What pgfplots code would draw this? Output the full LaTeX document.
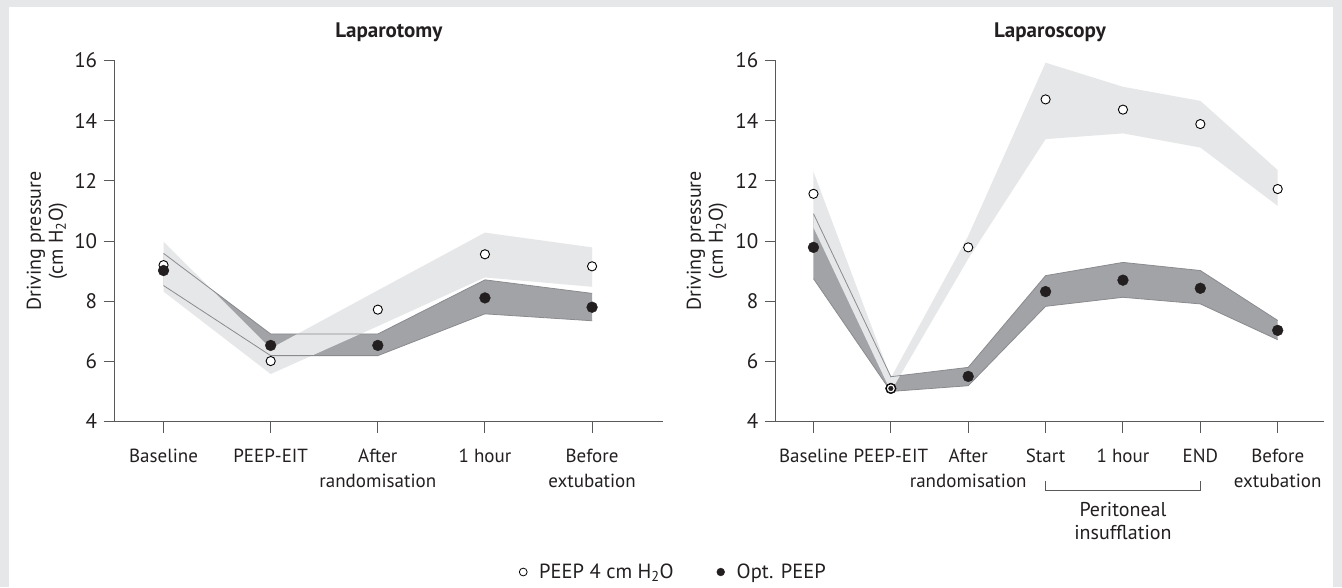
\documentclass[border=0pt]{standalone}
\usepackage{fontspec}
\setmainfont{PT Sans}
\usepackage{pgfplots}
\pgfplotsset{compat=1.18}
\usepackage{pgfplotstable}

\definecolor{bggray}{HTML}{E6E7E8}
\definecolor{lightband}{HTML}{E6E7E8}
\definecolor{darkband}{HTML}{A2A3A6}
\definecolor{outl}{HTML}{8A8B8E}
\definecolor{txt}{HTML}{231F20}
\definecolor{axisgray}{HTML}{58595B}

% Laparotomy
\pgfplotstableread{
x mean lo hi
0 9.20 8.32 9.98
1 6.01 5.58 6.43
2 7.72 7.17 8.36
3 9.56 8.79 10.28
4 9.16 8.48 9.79
}\lapoPEEP
\pgfplotstableread{
x mean lo hi
0 9.02 8.52 9.59
1 6.53 6.19 6.91
2 6.53 6.19 6.91
3 8.11 7.58 8.71
4 7.80 7.35 8.26
}\lapoOPT
% Laparoscopy
\pgfplotstableread{
x mean lo hi
0 11.57 10.45 12.30
1 5.10 5.00 5.45
2 9.79 9.41 10.17
3 14.71 13.39 15.93
4 14.37 13.58 15.13
5 13.89 13.11 14.66
6 11.73 11.17 12.36
}\lapsPEEP
\pgfplotstableread{
x mean lo hi
0 9.79 8.75 10.91
1 5.10 5.00 5.49
2 5.50 5.19 5.80
3 8.32 7.83 8.85
4 8.70 8.13 9.29
5 8.43 7.91 9.02
6 7.03 6.72 7.36
}\lapsOPT

\pgfplotsset{
  panel/.style={
    scale only axis, width=548.4pt, height=360.9pt,
    ymin=4, ymax=16, ytick={4,6,...,16},
    axis lines=left,
    axis line style={-, draw=axisgray, line width=1.3pt},
    tick align=outside, major tick length=11pt,
    tick style={draw=axisgray, line width=1pt},
    xticklabel style={font=\fontsize{19}{25}\selectfont, align=center, text=txt, yshift=-13pt},
    yticklabel style={font=\fontsize{21}{25}\selectfont, text=txt, xshift=-3pt},
    /pgf/number format/assume math mode=true,
    clip=false,
    title style={font=\bfseries\fontsize{21}{25}\selectfont, text=txt, at={(axis description cs:0.5,1)}, anchor=base, yshift=17.5pt},
  },
  openmk/.style={only marks, mark=*, mark size=4.6pt, mark options={fill=white, draw=black, line width=0.9pt}},
  fillmk/.style={only marks, mark=*, mark size=5.4pt, mark options={fill=txt, draw=txt}},
}

\begin{document}
\begin{tikzpicture}
\fill[bggray] (0pt,0pt) rectangle (1342pt,-587pt);
\fill[white] (9pt,-7pt) rectangle (1333pt,-587pt);

% ---------------- Laparotomy ----------------
\begin{axis}[panel,
  at={(114.7pt,-421.5pt)}, anchor=south west,
  xmin=-0.456, xmax=4.663,
  xtick={0,1,2,3,4},
  xticklabels={Baseline, PEEP-EIT, {After\\randomisation}, 1 hour, {Before\\extubation}},
  title={Laparotomy},
  ylabel={Driving pressure\\(cm H\textsubscript{2}O)},
  every axis y label/.style={at={(axis description cs:-0.1235,0.5)}, rotate=90, anchor=center, align=center, font=\fontsize{20}{22}\selectfont, text=txt},
  legend style={at={(axis description cs:1.018,-0.417)}, anchor=center, draw=none, fill=none,
    legend columns=2, font=\fontsize{20.5}{23}\selectfont, text=txt,
    /tikz/every even column/.append style={column sep=40pt}},
  legend image code/.code={\path[draw=none, fill=none] (-1pt,-4pt) rectangle (18pt,4pt); \filldraw[#1] (4pt,0pt) circle (3.9pt);},
]
\addlegendimage{draw=black, fill=white, line width=0.8pt}
\addlegendimage{draw=txt, fill=txt}

% Opt. PEEP band
\addplot[fill=darkband, draw=none, forget plot] coordinates {(0,9.59) (1,6.91) (2,6.91) (3,8.71) (4,8.26) (4,7.35) (3,7.58) (2,6.19) (1,6.19) (0,8.52)} -- cycle;
% PEEP 4 band
\addplot[fill=lightband, draw=none, forget plot] coordinates {(0,9.98) (1,6.43) (2,8.36) (3,10.28) (4,9.79) (4,8.48) (3,8.79) (2,7.17) (1,5.58) (0,8.32)} -- cycle;
\addplot[outl, line width=0.8pt, forget plot] table[x=x,y=hi]{\lapoOPT};
\addplot[outl, line width=0.8pt, forget plot] table[x=x,y=lo]{\lapoOPT};
\addplot[openmk, forget plot] table[x=x,y=mean]{\lapoPEEP};
\addplot[fillmk, forget plot] table[x=x,y=mean]{\lapoOPT};
\legend{PEEP 4 cm H\textsubscript{2}O, Opt. PEEP}
\end{axis}

% ---------------- Laparoscopy ----------------
\begin{axis}[panel,
  at={(775.8pt,-421.5pt)}, anchor=south west,
  xmin=-0.487, xmax=6.601,
  xtick={0,1,2,3,4,5,6},
  xticklabels={Baseline, PEEP-EIT, {After\\randomisation}, Start, 1 hour, END, {Before\\extubation}},
  title={Laparoscopy},
  ylabel={Driving pressure\\(cm H\textsubscript{2}O)},
  every axis y label/.style={at={(axis description cs:-0.1255,0.5)}, rotate=90, anchor=center, align=center, font=\fontsize{20}{22}\selectfont, text=txt},
]
\addplot[fill=darkband, draw=none] coordinates {(0,10.91) (1,5.49) (2,5.80) (3,8.85) (4,9.29) (5,9.02) (6,7.36) (6,6.72) (5,7.91) (4,8.13) (3,7.83) (2,5.19) (1,5.00) (0,8.75)} -- cycle;
\addplot[fill=lightband, draw=none] coordinates {(0,12.30) (1,5.45) (2,10.17) (3,15.93) (4,15.13) (5,14.66) (6,12.36) (6,11.17) (5,13.11) (4,13.58) (3,13.39) (2,9.41) (1,5.00) (0,10.45)} -- cycle;
\addplot[outl, line width=0.8pt] table[x=x,y=hi]{\lapsOPT};
\addplot[outl, line width=0.8pt] table[x=x,y=lo]{\lapsOPT};
\addplot[openmk] table[x=x,y=mean]{\lapsPEEP};
\addplot[fillmk] table[x=x,y=mean]{\lapsOPT};
% coincident PEEP-EIT point: ring with dot
\addplot[openmk] coordinates {(1,5.10)};
\addplot[only marks, mark=*, mark size=2.3pt, mark options={fill=txt, draw=txt}] coordinates {(1,5.10)};
% bracket for peritoneal insufflation
\draw[axisgray, line width=1pt] (axis cs:3,2.02) -- (axis cs:3,1.69) -- (axis cs:5,1.69) -- (axis cs:5,2.02);
\node[align=center, font=\fontsize{20}{23}\selectfont, text=txt] at (axis cs:4,0.675) {Peritoneal\\insufflation};
\end{axis}
\end{tikzpicture}
\end{document}
